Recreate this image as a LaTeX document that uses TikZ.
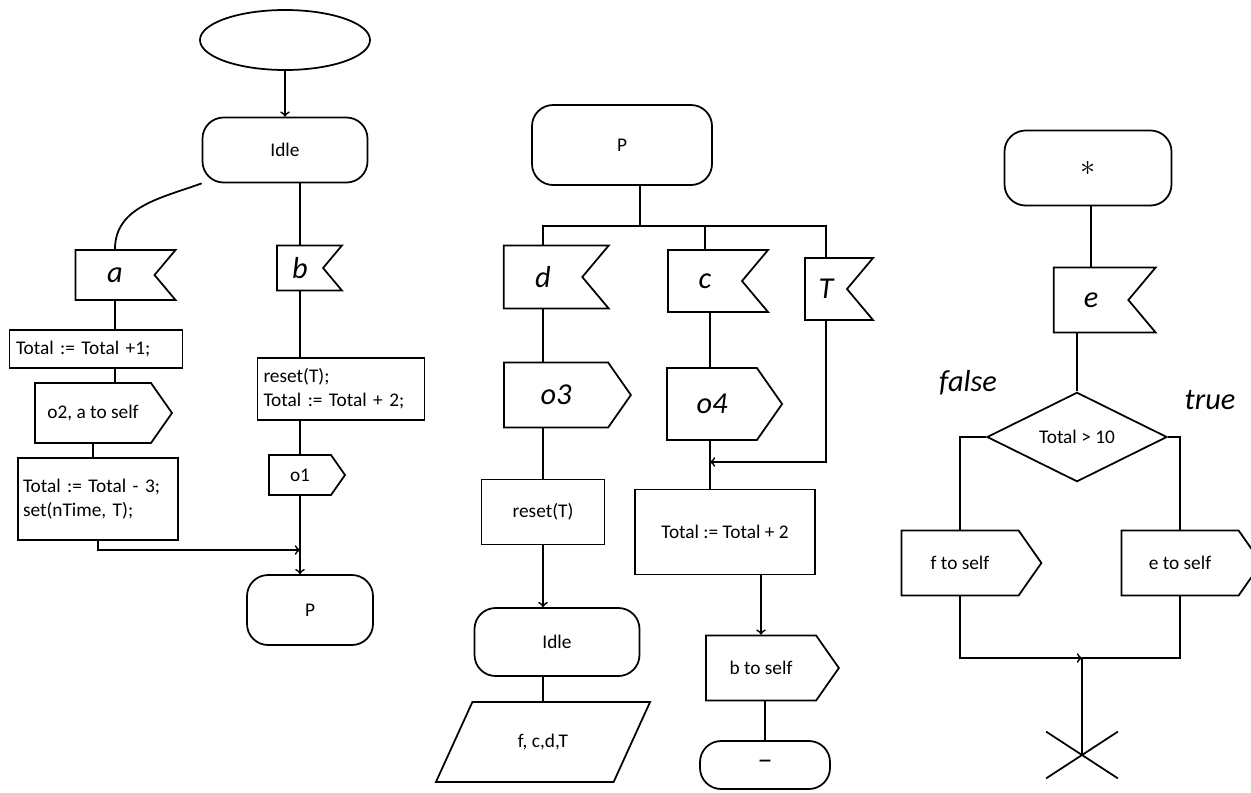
\documentclass[tikz,border=0pt]{standalone}
\usepackage{fontspec}
\setmainfont{Carlito}
\usepackage{tikz}
\usetikzlibrary{positioning}
\usetikzlibrary{calc}
\usetikzlibrary{shapes.geometric, shapes.symbols, shapes.misc, arrows}

\begin{document}
\begin{tikzpicture}[line width=1pt, font=\fontsize{11}{13.5}\selectfont]
    % SDL symbols used in the sketch
    \tikzstyle{state} = [draw, rectangle, rounded corners=12pt, inner sep=2pt]
    \tikzstyle{start} = [draw, ellipse]
    \tikzstyle{input} = [draw, signal, signal to=nowhere, signal from=east, signal pointer angle=100]
    \tikzstyle{output} = [draw, signal, signal to=east, signal pointer angle=110]
    \tikzstyle{task} = [draw, rectangle, align=left, inner sep=3pt]
    \tikzstyle{hand} = [font=\LARGE\itshape]

    \useasboundingbox (0,0) rectangle (25.02,-15.84);

    % first column: start, Idle and its two inputs
    \node (start) [start, minimum width=3.4cm, minimum height=1.2cm] at (5.7,-0.8) {};
    \node (idle1) [state, minimum width=3.3cm, minimum height=1.3cm] at (5.7,-3.0) {Idle};
    \node (sigA) [input, hand, minimum width=2cm, minimum height=1cm] at (2.3,-5.5) {a};
    \node (task1) [task, minimum width=3.46cm, minimum height=0.76cm, text width=3.2cm] at (1.92,-6.98) {Total := Total +1;};
    \node (outO2) [output, minimum width=2.74cm, minimum height=1.2cm] at (1.86,-8.26) {o2, a to self};
    \node (task2) [task, minimum width=3.2cm, minimum height=1.64cm, text width=3cm] at (1.96,-9.98) {Total := Total - 3;\\set(nTime, T);};
    \node (sigB) [input, hand, minimum width=1.3cm, minimum height=0.9cm] at (6.0,-5.36) {b};
    \node (task3) [task, minimum width=3.34cm, minimum height=1.24cm, text width=3.1cm] at (6.82,-7.78) {reset(T);\\Total := Total + 2;};
    \node (outO1) [output, minimum width=1.52cm, minimum height=0.8cm] at (6.0,-9.5) {o1};
    \coordinate (joinP) at (6.0,-11.0);
    \node (stateP1) [state, minimum width=2.52cm, minimum height=1.4cm] at (6.2,-12.2) {P};

    \draw[->] (start.south) -- (idle1.north);
    \draw (idle1.south west) to[out=200, in=90] (sigA.north);
    \draw (sigB.north |- idle1.south) -- (sigB.north);
    \draw (sigA.south) -- (task1.north -| sigA.south);
    \draw (task1.south -| sigA.south) -- (outO2.north -| sigA.south);
    \draw (outO2.south) -- (task2.north -| outO2.south);
    \draw[->] (task2.south) |- (joinP);
    \draw (sigB.south) -- (task3.north -| sigB.south);
    \draw (task3.south -| outO1.south) -- (outO1.north);
    \draw[->] (outO1.south) -- (stateP1.north -| outO1.south);

    % second column: state P
    \node (stateP2) [state, minimum width=3.6cm, minimum height=1.6cm] at (12.44,-2.9) {P};
    \coordinate (branch) at (12.8,-4.52);
    \node (sigD) [input, hand, minimum width=2.1cm, minimum height=1.26cm] at (10.86,-5.54) {d};
    \node (sigC) [input, hand, minimum width=2cm, minimum height=1.24cm] at (14.1,-5.62) {c};
    \node (sigT) [input, hand, minimum width=1.36cm, minimum height=1.24cm] at (16.52,-5.78) {T};
    \node (outO3) [output, hand, minimum width=2.54cm, minimum height=1.3cm] at (11.12,-7.9) {o3};
    \node (taskR) [task, minimum width=2.46cm, minimum height=1.3cm] at (10.86,-10.24) {reset(T)};
    \node (idle2) [state, minimum width=3.3cm, minimum height=1.36cm] at (11.14,-12.84) {Idle};
    \node (save) [draw, trapezium, trapezium left angle=60, trapezium right angle=120, trapezium stretches=true,
        minimum width=4.3cm, minimum height=1.6cm] at (10.86,-14.84) {f, c,d,T};
    \node (outO4) [output, hand, minimum width=2.3cm, minimum height=1.44cm] at (14.24,-8.08) {o4};
    \coordinate (joinT) at (14.2,-9.24);
    \node (taskT) [task, minimum width=3.6cm, minimum height=1.7cm] at (14.5,-10.64) {Total := Total + 2};
    \node (outB) [output, minimum width=2.66cm, minimum height=1.3cm] at (15.22,-13.36) {b to self};
    \node (stateDash) [state, hand, minimum width=2.6cm, minimum height=0.96cm] at (15.3,-15.3) {\textendash};

    \draw (stateP2.south -| branch) -- (branch);
    \draw (sigD.north) |- (branch) -| (sigT.north);
    \draw (branch -| sigC.north) -- (sigC.north);
    \draw (sigD.south) -- (outO3.north -| sigD.south);
    \draw (outO3.south -| taskR.north) -- (taskR.north);
    \draw[->] (taskR.south) -- (idle2.north -| taskR.south);
    \draw (idle2.south -| save.north) -- (save.north);
    \draw (sigC.south -| joinT) -- (outO4.north -| joinT);
    \draw (outO4.south -| joinT) -- (taskT.north -| joinT);
    \draw[->] (sigT.south) |- (joinT);
    \draw[->] (taskT.south -| outB.north) -- (outB.north);
    \draw (outB.south -| stateDash.north) -- (stateDash.north);

    % third column: state * and the decision
    \node (stateStar) [state, minimum width=3.34cm, minimum height=1.5cm] at (21.76,-3.36) {\LARGE$\ast$};
    \node (sigE) [input, hand, minimum width=2.04cm, minimum height=1.3cm] at (21.82,-6.0) {e};
    \node (decide) [draw, diamond, minimum width=3.6cm, minimum height=1.76cm, inner sep=0pt] at (21.54,-8.74) {Total > 10};
    \node (lblFalse) [hand] at (19.36,-7.66) {false};
    \node (lblTrue) [hand] at (24.2,-8.0) {true};
    \node (outF) [output, minimum width=2.8cm, minimum height=1.3cm] at (19.2,-11.26) {f to self};
    \node (outE) [output, minimum width=2.8cm, minimum height=1.3cm] at (23.6,-11.26) {e to self};
    \coordinate (merge) at (21.64,-13.16);
    \node (stop) [draw, cross out, minimum width=1.4cm, minimum height=0.9cm] at (21.64,-15.1) {};

    \draw (stateStar.south -| sigE.north) -- (sigE.north);
    \draw (sigE.south -| decide.north) -- (decide.north);
    \draw (decide.west) -| (outF.north);
    \draw (decide.east) -| (outE.north);
    \draw[->] (outF.south) |- (merge);
    \draw (outE.south) |- (merge);
    \draw (merge) -- (stop.center);
\end{tikzpicture}
\end{document}
